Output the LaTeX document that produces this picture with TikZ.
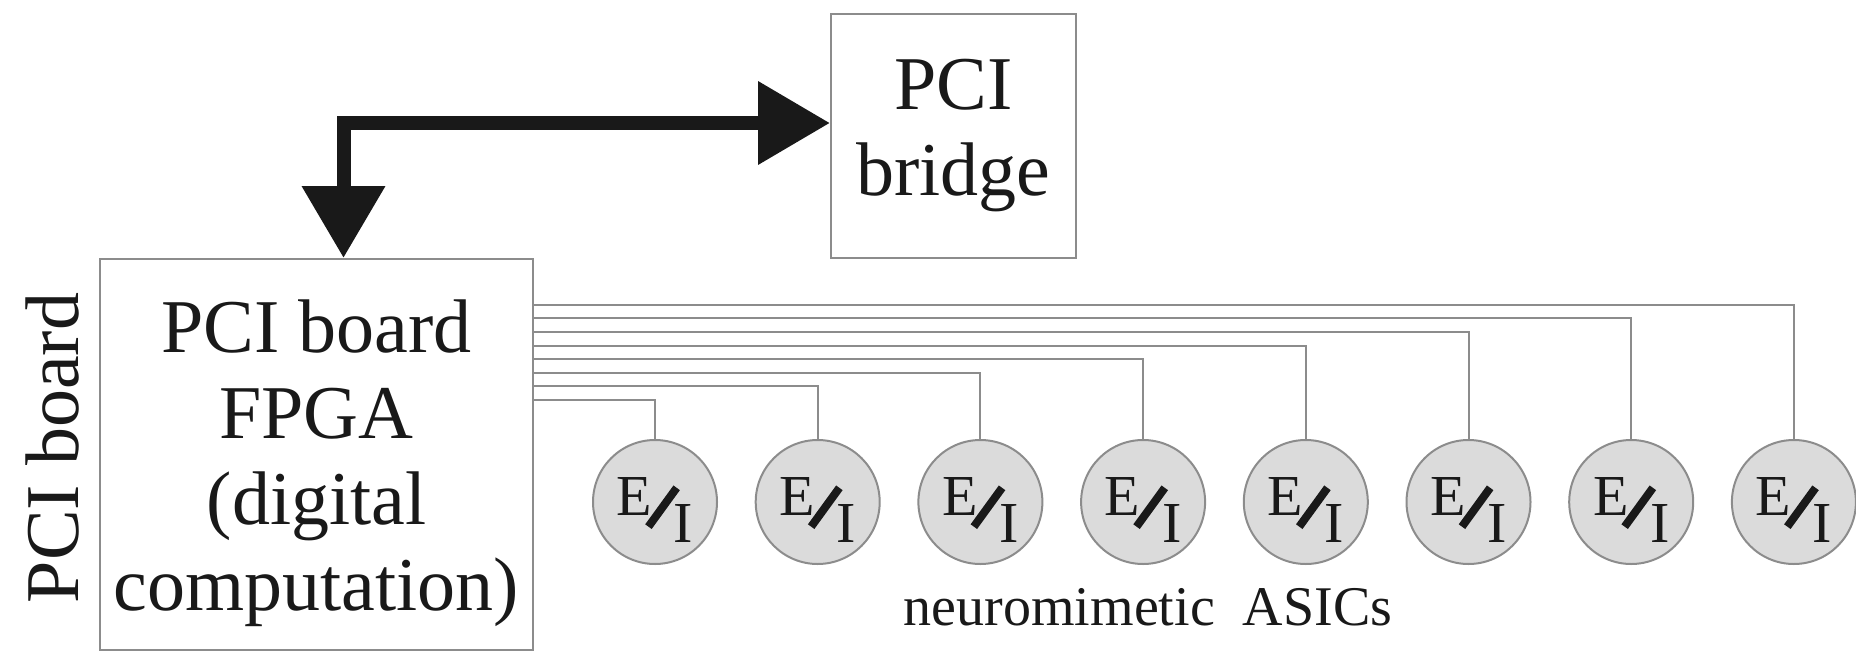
\documentclass[tikz,border=0pt]{standalone}
\usepackage{fontspec}
\setmainfont{Liberation Serif}
\usepackage{graphicx}
\usetikzlibrary{arrows.meta,positioning}

\definecolor{linegray}{gray}{0.55}
\definecolor{asicfill}{gray}{0.86}
\definecolor{inkblack}{gray}{0.1}

\newcommand{\EIsign}{\rule{0pt}{80pt}\raisebox{27pt}{E}\kern-7pt\raisebox{13pt}{\rotatebox{54}{\rule{48pt}{8pt}}}\kern-6pt I}

\begin{document}
\begin{tikzpicture}[x=1pt, y=-1pt, node distance=162.7pt, text=inkblack]
            \tikzstyle{block} = [rectangle, draw=linegray, line width=2pt, align=center, font=\fontsize{76}{86}\selectfont]
            \tikzstyle{asic} = [circle, draw=linegray, fill=asicfill, line width=2pt, minimum size=124pt, inner sep=0pt, font=\fontsize{58}{58}\selectfont]
            \tikzstyle{wire} = [linegray, line width=2pt]
            \tikzstyle{busarrow} = [inkblack, line width=14pt, line join=miter, {Triangle[length=72pt,width=80pt]}-{Triangle[length=72pt,width=80pt]}]

            \useasboundingbox (0,0) rectangle (1856,653);

            \node [block, minimum width=433pt, minimum height=391pt] (fpga) at (316.5,454.5) {\rule{0pt}{70pt}PCI board\\FPGA\\(digital\\computation)};
            \node [block, minimum width=245pt, minimum height=244pt] (bridge) at (953.5,136) {PCI\\bridge};
            \node [rotate=90, anchor=base, font=\fontsize{76}{86}\selectfont] (boardlabel) at (78,448) {PCI board};

            \node [asic] (asic1) at (655,502) {\EIsign};
            \node [asic, right of=asic1] (asic2) {\EIsign};
            \node [asic, right of=asic2] (asic3) {\EIsign};
            \node [asic, right of=asic3] (asic4) {\EIsign};
            \node [asic, right of=asic4] (asic5) {\EIsign};
            \node [asic, right of=asic5] (asic6) {\EIsign};
            \node [asic, right of=asic6] (asic7) {\EIsign};
            \node [asic, right of=asic7] (asic8) {\EIsign};
            \node [anchor=base, font=\fontsize{56}{56}\selectfont] (asiclabel) at (1148,625) {neuromimetic\ \ ASICs};

            \coordinate (bend) at (343.5,123);
            \draw [busarrow] (bridge.west |- bend) -- (bend) -- (bend |- fpga.north);

            \draw [wire] ([yshift=54.5pt]fpga.east) -| (asic1.north);
            \draw [wire] ([yshift=68.1pt]fpga.east) -| (asic2.north);
            \draw [wire] ([yshift=81.7pt]fpga.east) -| (asic3.north);
            \draw [wire] ([yshift=95.3pt]fpga.east) -| (asic4.north);
            \draw [wire] ([yshift=108.9pt]fpga.east) -| (asic5.north);
            \draw [wire] ([yshift=122.5pt]fpga.east) -| (asic6.north);
            \draw [wire] ([yshift=136.1pt]fpga.east) -| (asic7.north);
            \draw [wire] ([yshift=149.7pt]fpga.east) -| (asic8.north);
        \end{tikzpicture}
\end{document}
